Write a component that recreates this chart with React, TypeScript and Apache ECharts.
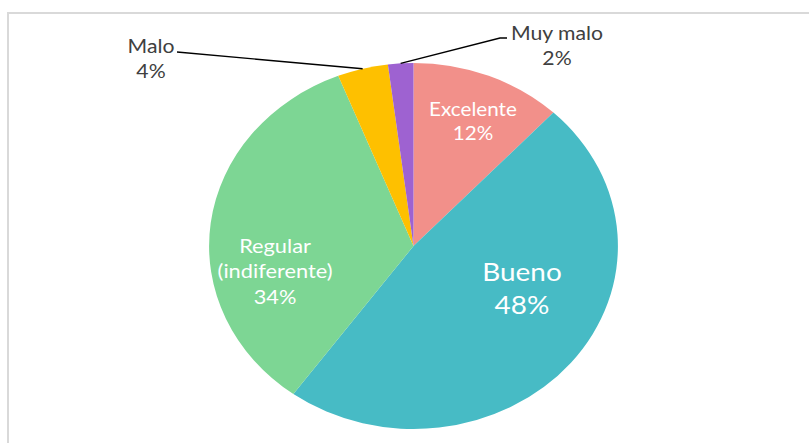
import React, { useEffect, useRef } from "react";
import * as echarts from "echarts";

const categories = ["Excelente", "Bueno", "Regular\n(indiferente)", "Malo", "Muy malo"];
const values = [12, 48, 34, 4, 2];
const percentLabels = ["12%", "48%", "34%", "4%", "2%"];

const COLORS = ["#F2908A", "#47BBC5", "#7DD694", "#FEC000", "#9E62D1"];
const CX = 413.5;
const CY = 246;
const RY = 183;
const RX = 204.5;
const SX = RX / RY;
const FONT = "Lato, 'Open Sans', sans-serif";

// label layout (pixel offsets from the pie centre), inside or outside
const LABEL_LAYOUT: any[] = [
  { inside: true, dx: 59.5, dy: -125, size: 18.5, lh: 23.5 },
  { inside: true, dx: 108.5, dy: 42, size: 25, lh: 33 },
  { inside: true, dx: -138.5, dy: 24.5, size: 19.5, lh: 25.5 },
  { inside: false, dx: -262.5, dy: -188.5, size: 19, lh: 25, line: [[177, 52]] },
  { inside: false, dx: 143.5, dy: -201.5, size: 19, lh: 25, line: [[500, 38], [507, 38]] },
];

export default function App() {
  const ref = useRef<HTMLDivElement>(null);
  useEffect(() => {
    const chart = echarts.init(ref.current!, null, { renderer: "svg" });
    const total = values.reduce((a, b) => a + b, 0);
    chart.setOption({
      animation: false,
      backgroundColor: "#ffffff",
      graphic: [
        {
          type: "rect",
          shape: { x: 8, y: 13, width: 900, height: 600 },
          style: { fill: "none", stroke: "#D9D9D9", lineWidth: 2 },
          silent: true,
        },
      ],
      series: [
        {
          type: "custom",
          coordinateSystem: "none",
          data: values.map((v, i) => ({ name: categories[i], value: [v] })),
          renderItem: (params: any, api: any) => {
            const i = params.dataIndex;
            const v = api.value(0);
            const before = values.slice(0, i).reduce((a, b) => a + b, 0);
            const a0 = -Math.PI / 2 + (before / total) * Math.PI * 2;
            const a1 = a0 + (v / total) * Math.PI * 2;
            const mid = (a0 + a1) / 2;
            const lay = LABEL_LAYOUT[i];
            const children: any[] = [
              {
                type: "sector",
                x: CX,
                y: CY,
                scaleX: SX,
                shape: { cx: 0, cy: 0, r: RY, r0: 0, startAngle: a0, endAngle: a1, clockwise: true },
                style: { fill: COLORS[i] },
              },
            ];
            if (!lay.inside) {
              const ex = CX + RX * Math.cos(mid);
              const ey = CY + RY * Math.sin(mid);
              children.push({
                type: "polyline",
                shape: { points: [[ex, ey], ...lay.line] },
                style: { stroke: "#000000", lineWidth: 1.4, fill: "none" },
              });
            }
            children.push({
              type: "text",
              x: CX + lay.dx,
              y: CY + lay.dy,
              scaleX: SX,
              style: {
                x: 0,
                y: 0,
                text: categories[i] + "\n" + percentLabels[i],
                fill: lay.inside ? "#FFFFFF" : "#404040",
                fontSize: lay.size,
                fontFamily: FONT,
                lineHeight: lay.lh,
                align: "center",
                verticalAlign: "middle",
              },
            });
            return { type: "group", children };
          },
        },
      ],
    });
    return () => chart.dispose();
  }, []);
  return (
    <div
      ref={ref}
      style={{ position: "fixed", left: 0, top: 0, width: 809, height: 443 }}
    />
  );
}
